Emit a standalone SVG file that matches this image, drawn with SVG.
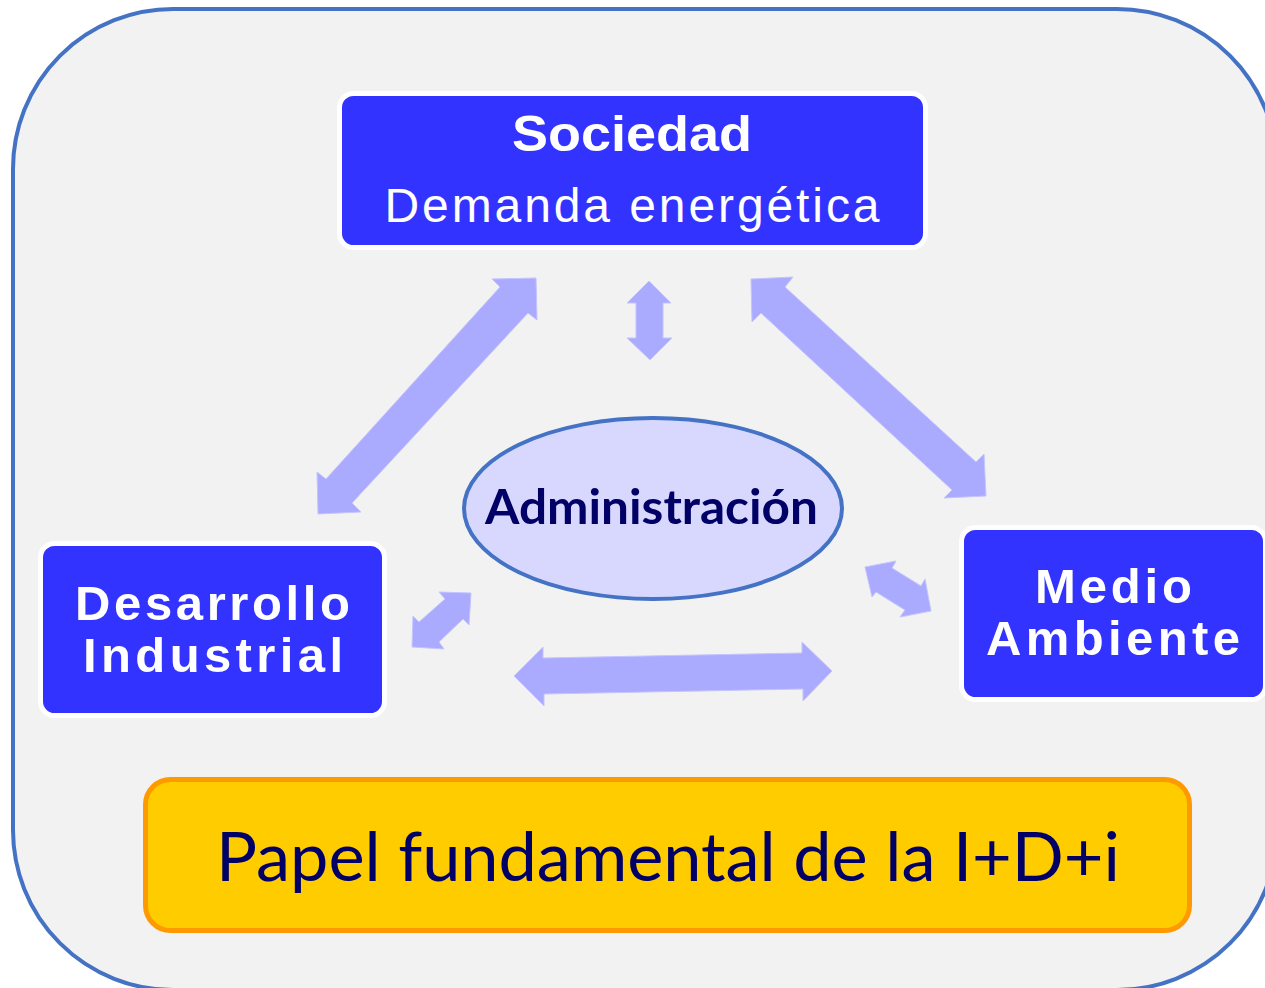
<svg xmlns="http://www.w3.org/2000/svg" width="1265" height="988" viewBox="0 0 1265 988">
<style>
.box{fill:#3333ff;stroke:#ffffff;stroke-width:5}
.wt{fill:#ffffff;font-family:"Liberation Sans",Arial,sans-serif;text-anchor:middle}
.b{font-weight:bold}
.arr{fill:#aaaaff;stroke:#c4c4ff;stroke-width:1}
.navy{fill:#000066;font-family:Lato,"Open Sans",sans-serif;text-anchor:middle}
</style>
<rect width="1265" height="988" fill="#ffffff"/>
<rect id="frame" x="13" y="9" width="1264" height="981" rx="160" ry="160" fill="#f2f2f2" stroke="#4472c4" stroke-width="4"/>
<g id="connectors">
<polygon class="arr" points="536,278 537,320 528,313 352,503 361,512 318,514 317,472 326,479 500,287 492,279"/>
<polygon class="arr" points="649,281 671,303 663,303 663,338 672,338 650,360 627,338 636,338 636,303 627,303"/>
<polygon class="arr" points="751,279 793,277 785,287 976,462 984,454 986,496 944,498 952,490 761,313 752,322"/>
<polygon class="arr" points="471,593 469,625 463,619 439,642 444,649 412,647 413,616 419,622 445,599 439,592"/>
<polygon class="arr" points="514,676 543,647 543,658 802,653 802,642 832,671 803,701 803,689 544,694 544,706"/>
<polygon class="arr" points="865,567 896,561 892,568 921,586 925,579 931,611 900,617 905,610 876,592 872,597"/>
</g>
<g id="sociedad">
<rect class="box" x="339.5" y="93.5" width="586" height="154" rx="14"/>
<text class="wt b" x="632" y="151" font-size="50" textLength="240" lengthAdjust="spacingAndGlyphs">Sociedad</text>
<text class="wt" x="632" y="222" font-size="48" textLength="495" lengthAdjust="spacing">Demanda energética</text>
</g>
<g id="desarrollo">
<rect class="box" x="40.5" y="543.5" width="344" height="172" rx="14"/>
<text class="wt b" x="212.5" y="620" font-size="49" textLength="275" lengthAdjust="spacing">Desarrollo</text>
<text class="wt b" x="213" y="672" font-size="49" textLength="260" lengthAdjust="spacing">Industrial</text>
</g>
<g id="medio">
<rect class="box" x="961.5" y="527.5" width="304" height="172" rx="14"/>
<text class="wt b" x="1113.5" y="603" font-size="49" textLength="157" lengthAdjust="spacing">Medio</text>
<text class="wt b" x="1113" y="655" font-size="49" textLength="254" lengthAdjust="spacing">Ambiente</text>
</g>
<g id="administracion">
<ellipse cx="653" cy="508.5" rx="189" ry="90.5" fill="#d8d8ff" stroke="#4472c4" stroke-width="4"/>
<text class="navy" x="651.5" y="524" font-size="47" font-weight="bold" textLength="333" lengthAdjust="spacingAndGlyphs">Administración</text>
</g>
<g id="idi">
<rect x="145.5" y="779.5" width="1044" height="151" rx="25" fill="#ffcc00" stroke="#ff9900" stroke-width="5"/>
<text class="navy" x="668" y="881" font-size="68" textLength="904" lengthAdjust="spacingAndGlyphs">Papel fundamental de la I+D+i</text>
</g>
</svg>
